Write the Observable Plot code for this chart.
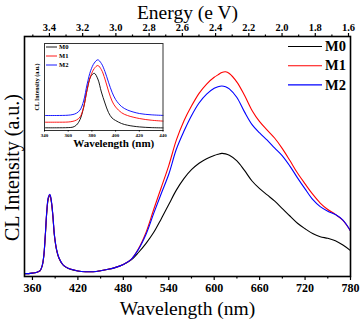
<!DOCTYPE html>
<html>
<head>
<meta charset="utf-8">
<script src="https://cdn.jsdelivr.net/npm/d3@7"></script>
<script src="https://cdn.jsdelivr.net/npm/@observablehq/plot@0.6"></script>
<style>
  body { margin: 0; background: #fff; }
  #chart { position: relative; width: 360px; height: 322px; font-family: 'Liberation Serif', 'DejaVu Serif', serif; }
  #chart > svg { position: absolute; }
  #chart text { font-family: 'Liberation Serif', 'DejaVu Serif', serif !important; }
</style>
</head>
<body>
<div id="chart"></div>
<script>
// Cathodoluminescence spectra of samples M0, M1, M2
const series = ["M0", "M1", "M2"];
const colors = ["#000000", "#ff0000", "#0000ff"];

const wavelength = [350, 355, 360, 365, 370, 373, 375, 377, 379, 381, 383, 385, 387, 389, 392, 395, 400, 405, 410, 420,
  430, 440, 450, 460, 470, 480, 490, 500, 510, 520, 530, 540, 550, 560, 570, 580, 590, 600, 605, 610,
  615, 620, 630, 640, 650, 660, 670, 680, 690, 700, 710, 720, 730, 740, 750, 760, 770, 780];
const m0 = [1.2, 1.2, 1.4, 1.7, 2.4, 4.5, 8.5, 17, 27, 32.5, 33.8, 31, 25, 17, 10.8, 7.6, 4.9, 3.7, 3.0, 2.3,
  2.0, 2.0, 2.4, 3.0, 3.8, 5.0, 6.8, 10.0, 13.8, 18.3, 24, 30, 36, 40.8, 44.5, 47.2, 49.1, 50.4, 50.9, 51.3,
  51.1, 50.5, 48.2, 44.2, 39.8, 36.6, 34.0, 31.4, 28.3, 25.2, 22.2, 19.9, 17.9, 16.6, 15.9, 14.9, 13.1, 10.8];
const m1 = [1.2, 1.2, 1.4, 1.7, 2.4, 4.6, 8.6, 17.2, 27.3, 32.8, 34.0, 31.2, 25.2, 17.2, 11.0, 7.7, 5.0, 3.8, 3.1, 2.3,
  2.0, 2.0, 2.4, 3.0, 3.8, 5.0, 7.0, 11.6, 18.4, 27.8, 37, 46.2, 56.8, 64.8, 71, 76.3, 80.2, 83, 84, 85,
  85.3, 84.6, 81, 75.5, 69.2, 64.5, 61, 57.6, 53.3, 48.3, 43.1, 38.6, 34.3, 30.6, 27.9, 25.9, 23.4, 19.0];
const m2 = [1.2, 1.2, 1.4, 1.7, 2.4, 4.7, 8.8, 17.5, 27.6, 33.1, 34.3, 31.5, 25.5, 17.4, 11.1, 7.8, 5.0, 3.8, 3.1, 2.3,
  2.0, 2.0, 2.4, 3.0, 3.8, 5.0, 7.0, 11.3, 17.6, 26.2, 34.5, 42.6, 53, 60.5, 67, 72.3, 76, 78.4, 79.1, 79.4,
  79.1, 78.2, 74.6, 68.6, 63.3, 59.8, 56.8, 53.5, 50.3, 46, 41.1, 36.5, 32.1, 29.1, 27.2, 25.8, 23.5, 19.0];

// Inset: near-band-edge emission
const insetWavelength = [340, 350, 360, 364, 367, 370, 373, 376, 379, 382, 385, 388, 391, 394, 397, 400, 405, 410, 420, 430, 440];
const insetM0 = [2.7, 2.7, 2.9, 3.4, 5.5, 11, 23, 41, 54, 57.2, 51.5, 38.5, 27.5, 18, 12.5, 10, 7.0, 5.3, 3.6, 2.9, 2.6];
const insetM1 = [8.3, 8.3, 8.5, 9.2, 10.5, 13.5, 23, 41, 54.5, 62, 65, 60.8, 51.5, 39.5, 29.5, 23.5, 17.8, 15, 12, 10.3, 9.4];
const insetM2 = [15, 15, 15.3, 16, 17.3, 20.5, 29.5, 46.5, 60, 67.5, 70.7, 67, 59, 48.3, 38.3, 31, 24, 20.5, 17, 15.7, 15.1];

const xMajor = [360, 420, 480, 540, 600, 660, 720, 780];
const xMinor = [390, 450, 510, 570, 630, 690, 750];
const insetTicks = [340, 360, 380, 400, 420, 440];
const energyMajor = [3.4, 3.2, 3.0, 2.8, 2.6, 2.4, 2.2, 2.0, 1.8, 1.6];
const energyMinor = [3.5, 3.3, 3.1, 2.9, 2.7, 2.5, 2.3, 2.1, 1.9, 1.7];

const xDomain = [349.5, 780];
// energy scale shown along the top edge, linear across the frame
const energyEdges = [3.55, 1.588];
const eToW = e => xDomain[0] + (energyEdges[0] - e) / (energyEdges[0] - energyEdges[1]) * (xDomain[1] - xDomain[0]);

const toRows = (xs, ys) => series.flatMap((s, i) => xs.map((w, j) => ({s, w, v: ys[i][j]})));
const mainRows = toRows(wavelength, [m0, m1, m2]);
const insetRows = toRows(insetWavelength, [insetM0, insetM1, insetM2]);

const serif = "'Liberation Serif', 'DejaVu Serif', serif";
const chart = document.getElementById("chart");

const main = Plot.plot({
  width: 360, height: 322,
  marginLeft: 24, marginRight: 10, marginTop: 36, marginBottom: 46,
  style: {fontFamily: serif, background: "transparent", overflow: "visible"},
  x: {domain: xDomain},
  y: {domain: [0, 100], axis: null},
  color: {domain: series, range: colors},
  marks: [
    Plot.line(mainRows, {x: "w", y: "v", stroke: "s", strokeWidth: 1.1, curve: "catmull-rom"}),
    Plot.frame({stroke: "#000", strokeWidth: 1.6}),
    Plot.axisX({anchor: "bottom", ticks: xMajor, tickSize: 4, tickPadding: 3, tickFormat: d => d,
      fontSize: 12, fontWeight: "bold", fontFamily: serif, label: null, stroke: "#000", strokeWidth: 1.2}),
    Plot.axisX({anchor: "bottom", ticks: xMinor, tickSize: 2.5, tickFormat: () => "", label: null, strokeWidth: 1.2}),
    Plot.axisX({anchor: "top", ticks: energyMajor.map(eToW), tickSize: 4, tickPadding: 2,
      tickFormat: (w, i) => energyMajor[i].toFixed(1), fontSize: 10.5, fontWeight: "bold", fontFamily: serif,
      label: null, strokeWidth: 1.2}),
    Plot.axisX({anchor: "top", ticks: energyMinor.map(eToW), tickSize: 2.5, tickFormat: () => "", label: null, strokeWidth: 1.2}),
    Plot.text(["Energy (e V)"], {text: d => d, frameAnchor: "top", lineAnchor: "middle", textAnchor: "middle",
      dy: -24, fontSize: 19.5, fontFamily: serif, fill: "#000"}),
    Plot.text(["Wavelength (nm)"], {text: d => d, frameAnchor: "bottom", lineAnchor: "middle", textAnchor: "middle",
      dy: 32, fontSize: 19.5, fontFamily: serif, fill: "#000"}),
    Plot.text(["CL Intensity (a.u.)"], {text: d => d, frameAnchor: "left", lineAnchor: "middle", textAnchor: "middle",
      rotate: -90, dx: -12, dy: 11, fontSize: 20, fontFamily: serif, fill: "#000"})
  ]
});
main.style.left = "0px";
main.style.top = "0px";
chart.appendChild(main);

const inset = Plot.plot({
  width: 142, height: 108,
  marginLeft: 16, marginTop: 3, marginRight: 7.5, marginBottom: 18,
  style: {fontFamily: serif, background: "transparent", overflow: "visible"},
  x: {domain: [340, 440]},
  y: {domain: [0, 87], axis: null},
  color: {domain: series, range: colors},
  marks: [
    Plot.line(insetRows, {x: "w", y: "v", stroke: "s", strokeWidth: 0.9, curve: "catmull-rom"}),
    Plot.frame({stroke: "#333", strokeWidth: 1}),
    Plot.axisX({anchor: "bottom", ticks: insetTicks, tickSize: 1.5, tickPadding: 1, tickFormat: d => d,
      fontSize: 5, fontWeight: "bold", fontFamily: serif, label: null}),
    Plot.text(["Wavelength (nm)"], {text: d => d, frameAnchor: "bottom", lineAnchor: "middle", textAnchor: "middle",
      dy: 12.5, dx: 10, fontSize: 11, fontWeight: "bold", fontFamily: serif, fill: "#000"}),
    Plot.text(["CL Intensity (a.u.)"], {text: d => d, frameAnchor: "left", lineAnchor: "middle", textAnchor: "middle",
      rotate: -90, dx: -7, dy: 0, fontSize: 6, fontWeight: "bold", fontFamily: serif, fill: "#000"})
  ]
});
inset.style.left = "28px";
inset.style.top = "40px";
chart.appendChild(inset);

// Legends for the main panel and the inset
const legendSvg = d3.select(chart).append("svg")
  .attr("width", 360).attr("height", 322)
  .style("left", "0px").style("top", "0px")
  .style("pointer-events", "none");

function legend(g, {x, y, step, lineLength, gap, fontSize, strokeWidth}) {
  const rows = g.selectAll("g").data(series).join("g")
    .attr("transform", (d, i) => `translate(${x},${y + i * step})`);
  rows.append("line").attr("x1", 0).attr("x2", lineLength)
    .attr("stroke", (d, i) => colors[i]).attr("stroke-width", strokeWidth);
  rows.append("text").attr("x", lineLength + gap).attr("dy", "0.33em")
    .style("font-family", serif).attr("font-weight", "bold").attr("font-size", fontSize)
    .text(d => d);
}
legend(legendSvg.append("g"), {x: 288, y: 46.5, step: 19.2, lineLength: 34, gap: 3, fontSize: 14.5, strokeWidth: 1.1});
legend(legendSvg.append("g"), {x: 46, y: 47, step: 9, lineLength: 11, gap: 2, fontSize: 6.5, strokeWidth: 0.9});
</script>
</body>
</html>
